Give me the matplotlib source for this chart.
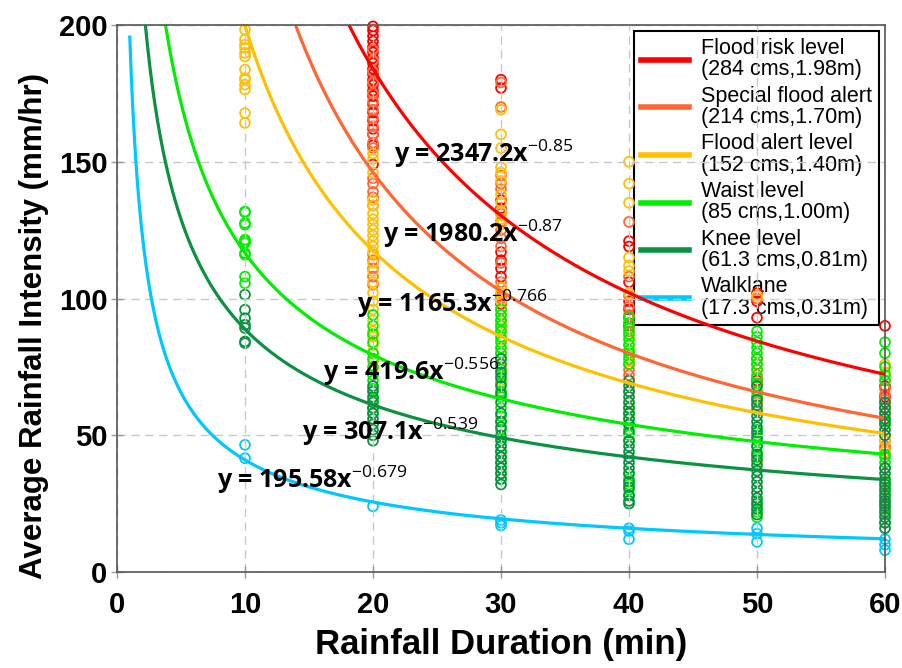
import numpy as np
import matplotlib
matplotlib.use("Agg")
import matplotlib.pyplot as plt
from matplotlib import font_manager as fm

# ---------------- data ----------------
level_labels = ["Flood risk level\n(284 cms,1.98m)",
                "Special flood alert\n(214 cms,1.70m)",
                "Flood alert level\n(152 cms,1.40m)",
                "Waist level\n(85 cms,1.00m)",
                "Knee level\n(61.3 cms,0.81m)",
                "Walklane\n(17.3 cms,0.31m)"]
coef = [2347.2, 1980.2, 1165.3, 419.6, 307.1, 195.58]
expo = [-0.85, -0.87, -0.766, -0.556, -0.539, -0.679]
eq_texts = ["2347.2", "1980.2", "1165.3", "419.6", "307.1", "195.58"]
eq_sup = ["-0.85", "-0.87", "-0.766", "-0.556", "-0.539", "-0.679"]
colors = ["#FF0000", "#FF6633", "#FFC000", "#00EE00", "#0A9141", "#00C8FF"]

# observed points: duration (min) -> intensities (mm/hr)
risk_obs = {
    20: [199.5, 198, 196, 194, 192, 190, 188, 186, 184, 182, 180, 178, 176, 174, 171, 168, 165, 162, 160, 156, 149],
    30: [180, 177, 136, 133, 117, 114, 111, 108, 104, 101, 98],
    40: [121, 119, 106, 99, 96, 93, 90],
    50: [102, 99, 93, 78, 70],
    60: [90, 68, 64, 60],
}
special_obs = {
    20: [191, 187, 183, 179, 175, 172, 169, 166, 163, 160, 157, 155, 144, 142, 139, 137, 134, 116, 114, 111, 108, 105],
    30: [179, 170, 145, 142, 140, 131, 128, 125, 122, 119, 113, 106, 100, 96, 92, 88, 80],
    40: [128, 108, 101, 97, 94, 91, 88, 76, 74, 72, 70, 66],
    50: [100, 76, 72, 68, 64, 62],
    60: [67, 65, 63, 62, 58, 56, 48, 46, 45],
}
alert_obs = {
    10: [198.3, 194.7, 192.8, 191.6, 189.8, 188.5, 183.7, 180.6, 180.0, 178.2, 176.4, 167.8, 164.2],
    20: [153, 151, 146, 136, 134, 131, 129, 127, 125, 123, 121, 119, 117, 113, 110, 106, 102, 99, 96, 92, 88, 86, 83, 80, 77, 74],
    30: [169, 160, 155, 148, 146, 143, 138, 135, 132, 129, 127, 104, 102, 99, 96, 94, 91, 89, 85, 82, 78, 75, 70, 66],
    40: [150, 142, 135, 115, 112, 110, 102, 86, 83, 81, 79, 77, 62, 58],
    50: [101, 74, 66, 60, 40],
    60: [76, 73, 70, 58, 54, 50, 48, 44],
}
waist_obs = {
    10: [131.8, 131.5, 127.6, 127.0, 121.5, 120.9, 120.3, 116.6, 116.0, 108.0, 105.6],
    20: [94, 90, 87, 84, 80, 78, 75, 72, 70, 67, 63, 60, 58],
    30: [96, 94, 92, 90, 88, 86, 84, 82, 80, 78, 74, 72, 69, 66, 64, 60, 57, 55, 52, 49, 46, 44, 42, 40, 38, 36, 34],
    40: [93, 91, 89, 87, 85, 83, 81, 80, 78, 76, 60, 58, 56, 54, 52, 50, 48, 36, 34, 32, 30, 28],
    50: [88, 86, 84, 82, 80, 78, 76, 74, 71, 69, 66, 64, 52, 50, 48, 46, 44, 42, 26, 24, 22, 20],
    60: [84, 80, 75, 72, 70, 60, 55, 43, 42, 40, 38, 33, 31, 29, 27, 23, 21, 18],
}
knee_obs = {
    10: [101.4, 95.9, 92.8, 90.4, 89.2, 84.3, 83.7],
    20: [68, 66, 64, 62, 60, 58, 56, 54, 52, 50, 48],
    30: [78, 76, 73, 71, 68, 65, 62, 58, 55, 53, 50, 48, 46, 44, 42, 40, 38, 36, 34, 32],
    40: [70, 68, 66, 64, 62, 60, 58, 56, 54, 51, 48, 46, 44, 42, 40, 38, 36, 33, 31, 28, 26, 25],
    50: [68, 63, 61, 59, 57, 55, 53, 51, 49, 46, 43, 41, 39, 37, 35, 33, 31, 29, 27, 25, 23, 21],
    60: [62, 60, 58, 56, 54, 52, 50, 38, 36, 34, 32, 30, 28, 26, 25, 24, 22, 20, 18, 16],
}
walk_obs = {
    10: [46.5, 41.6],
    20: [24],
    30: [19, 18, 17],
    40: [16, 15, 12],
    50: [16, 14, 11],
    60: [12, 10, 8],
}
observations = [risk_obs, special_obs, alert_obs, waist_obs, knee_obs, walk_obs]

x_ticks = [0, 10, 20, 30, 40, 50, 60]
y_ticks = [0, 50, 100, 150, 200]

# ---------------- fonts ----------------
bold_names = {f.name for f in fm.fontManager.ttflist
              if (f.weight if isinstance(f.weight, int) else 700 if "bold" in str(f.weight).lower() else 400) >= 700}
eq_family = "Liberation Sans"
for cand in ["Noto Sans CJK KR", "Noto Sans", "Open Sans", "Roboto"]:
    if cand in bold_names:
        eq_family = cand
        break

plt.rcParams["font.family"] = ["Liberation Sans", "DejaVu Sans"]
plt.rcParams["mathtext.fontset"] = "custom"
plt.rcParams["mathtext.rm"] = eq_family
plt.rcParams["mathtext.it"] = eq_family
plt.rcParams["mathtext.bf"] = eq_family + ":bold"

fig = plt.figure(figsize=(9.02, 6.68), dpi=100)
ax = fig.add_axes([117 / 902, 96 / 668, (885 - 117) / 902, (572 - 25) / 668])

# scatter points
for obs, col in zip(observations, colors):
    xs, ys = [], []
    for d, vals in obs.items():
        xs += [d] * len(vals)
        ys += vals
    ax.scatter(xs, ys, s=50, facecolors="none", edgecolors=col, linewidths=1.3, zorder=2, clip_on=False)

# fitted curves
xx = np.linspace(1, 60, 600)
for a, b, col, lab in zip(coef, expo, colors, level_labels):
    ax.plot(xx, a * xx ** b, color=col, lw=2.3, label=lab, zorder=4)

# equations
eq_x = [21.66, 20.80, 18.73, 16.07, 14.43, 7.84]
eq_y = [150.0, 120.8, 95.2, 70.2, 48.3, 30.6]
for t, s, ex, ey in zip(eq_texts, eq_sup, eq_x, eq_y):
    ax.text(ex, ey, "y = %sx$^{%s}$" % (t, s), fontsize=18, fontweight="bold",
            family=eq_family, color="black", ha="left", va="baseline", zorder=5)

ax.set_xlim(0, 60)
ax.set_ylim(0, 200)
ax.set_xticks(x_ticks)
ax.set_yticks(y_ticks)
ax.grid(True, color="#C8C8C8", lw=1.0, linestyle=(0, (6, 4)), zorder=3)
ax.set_axisbelow(False)
for sp in ax.spines.values():
    sp.set_color("#555555")
    sp.set_linewidth(1.2)
    sp.set_zorder(6)

ax.tick_params(axis="both", direction="inout", length=8, width=1, color="#999999")
ax.tick_params(axis="x", pad=10)
ax.tick_params(axis="y", pad=3)
for lbl in ax.get_yticklabels():
    lbl.set_fontsize(21)
    lbl.set_fontweight("bold")
for lbl in ax.get_xticklabels():
    lbl.set_fontsize(21)
    lbl.set_fontweight("bold")

ax.set_xlabel("Rainfall Duration (min)", fontsize=25, fontweight="bold", labelpad=6)
ax.set_ylabel("Average Rainfall Intensity (mm/hr)", fontsize=22.5, fontweight="bold")
ax.yaxis.set_label_coords(-0.088, 0.45)

leg = ax.legend(loc="upper right", fontsize=15.5, frameon=True, fancybox=False,
                edgecolor="black", framealpha=1, borderpad=0.3, labelspacing=0.25,
                handlelength=2.25, handletextpad=0.55, borderaxespad=0.3)
leg.get_frame().set_linewidth(1.5)
leg.set_zorder(1)
for t in leg.get_texts():
    t.set_linespacing(1.02)
for h in leg.get_lines():
    h.set_linewidth(4)

fig.savefig("out.png", dpi=100)
